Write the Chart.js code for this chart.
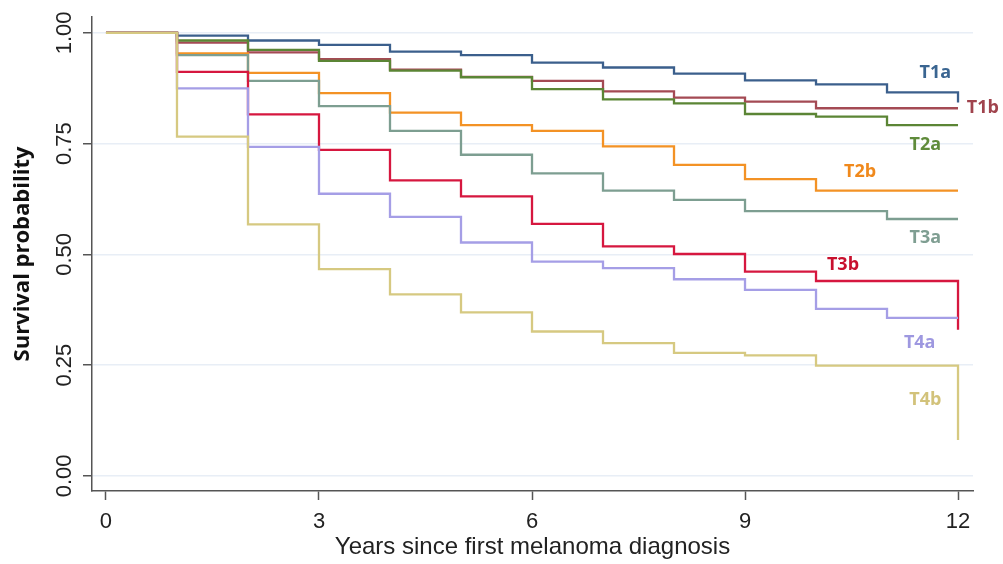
<!DOCTYPE html>
<html>
<head>
<meta charset="utf-8">
<script src="https://cdn.jsdelivr.net/npm/chart.js@4.4.0/dist/chart.umd.min.js"></script>
<style>
  body { margin: 0; background: #fff; }
  #wrap { width: 1003px; height: 564px; }
</style>
</head>
<body>
<div id="wrap"><canvas id="kmChart"></canvas></div>
<script>
// Kaplan-Meier survival by T stage
const years = [0, 1, 2, 3, 4, 5, 6, 7, 8, 9, 10, 11, 12];
const xTicks = [0, 3, 6, 9, 12];
const yTicks = [0, 0.25, 0.5, 0.75, 1];

const t1a = [1, 0.994, 0.983, 0.973, 0.958, 0.950, 0.933, 0.922, 0.908, 0.893, 0.884, 0.866, 0.843];
const t1b = [1, 0.978, 0.956, 0.941, 0.917, 0.901, 0.892, 0.868, 0.854, 0.845, 0.830, 0.830, 0.830];
const t2a = [1, 0.983, 0.962, 0.937, 0.915, 0.900, 0.873, 0.850, 0.841, 0.817, 0.811, 0.792, 0.792];
const t2b = [1, 0.954, 0.910, 0.864, 0.820, 0.792, 0.779, 0.744, 0.702, 0.670, 0.644, 0.644, 0.644];
const t3a = [1, 0.950, 0.892, 0.835, 0.779, 0.725, 0.683, 0.644, 0.623, 0.598, 0.598, 0.580, 0.580];
const t3b = [1, 0.912, 0.816, 0.736, 0.667, 0.631, 0.569, 0.518, 0.501, 0.461, 0.440, 0.440, 0.330];
const t4a = [1, 0.875, 0.743, 0.637, 0.585, 0.527, 0.484, 0.469, 0.444, 0.420, 0.377, 0.357, 0.357];
const t4b = [1, 0.766, 0.568, 0.467, 0.410, 0.369, 0.326, 0.300, 0.278, 0.272, 0.249, 0.249, 0.081];

const stages = ['T1a', 'T1b', 'T2a', 'T2b', 'T3a', 'T3b', 'T4a', 'T4b'];
const series = [t1a, t1b, t2a, t2b, t3a, t3b, t4a, t4b];
const lineColors = ['#3b5f8c', '#a44a54', '#5b8535', '#f39225', '#7d9e91', '#d6173f', '#a59ee6', '#d6c981'];
const textColors = ['#3a6591', '#a0434d', '#5f8b3b', '#f0891c', '#7f9e92', '#c8102e', '#9e98e0', '#d2c27a'];
// where each curve label sits, in data units
const labelX = [11.68, 12.35, 11.54, 10.62, 11.54, 10.38, 11.46, 11.54];
const labelY = [0.910, 0.831, 0.747, 0.686, 0.537, 0.476, 0.300, 0.172];

const curveLabels = {
    id: 'curveLabels',
    afterDatasetsDraw(chart) {
        const { ctx, scales } = chart;
        ctx.save();
        ctx.font = 'bold 18px "Open Sans"';
        ctx.textAlign = 'center';
        ctx.textBaseline = 'middle';
        stages.forEach((s, i) => {
            ctx.fillStyle = textColors[i];
            ctx.fillText(s, scales.x.getPixelForValue(labelX[i]), scales.y.getPixelForValue(labelY[i]));
        });
        ctx.restore();
    }
};

const ctx = document.getElementById('kmChart').getContext('2d');
new Chart(ctx, {
    type: 'line',
    data: {
        datasets: stages.map((s, i) => ({
            label: s,
            data: years.map((yr, j) => ({ x: yr, y: series[i][j] })),
            borderColor: lineColors[i],
            borderWidth: 2.3,
            stepped: 'before',
            pointRadius: 0,
            fill: false,
            order: 7 - i
        }))
    },
    options: {
        responsive: true,
        maintainAspectRatio: false,
        animation: false,
        layout: { padding: { top: 17, right: 30, left: 0, bottom: 0 } },
        plugins: {
            legend: { display: false },
            tooltip: { enabled: false }
        },
        scales: {
            x: {
                type: 'linear',
                min: -0.197,
                max: 12.211,
                afterBuildTicks: (scale) => { scale.ticks = xTicks.map(v => ({ value: v })); },
                afterFit: (scale) => { scale.height = 73; },
                grid: { drawOnChartArea: false, tickLength: 9, tickColor: '#555', tickWidth: 1.5 },
                border: { color: '#555', width: 1.5 },
                ticks: { color: '#222', font: { family: '"Liberation Sans"', size: 22 }, padding: 9 },
                title: {
                    display: true,
                    text: 'Years since first melanoma diagnosis',
                    color: '#222',
                    font: { family: '"Liberation Sans"', size: 24 },
                    padding: { top: 0, bottom: 2 }
                }
            },
            y: {
                type: 'linear',
                min: -0.034,
                max: 1.036,
                afterBuildTicks: (scale) => { scale.ticks = yTicks.map(v => ({ value: v })); },
                afterFit: (scale) => { scale.width = 92; },
                grid: { color: '#e8eef6', lineWidth: 1.5, tickLength: 9, tickColor: '#555', tickWidth: 1.5 },
                border: { color: '#555', width: 1.5 },
                ticks: {
                    color: '#222',
                    font: { family: '"Liberation Sans"', size: 22 },
                    minRotation: 90,
                    maxRotation: 90,
                    crossAlign: 'center',
                    padding: -3,
                    callback: (v) => v.toFixed(2)
                },
                title: {
                    display: true,
                    text: 'Survival probability',
                    color: '#111',
                    font: { family: '"Open Sans"', size: 22, weight: 'bold' },
                    padding: { top: 10, bottom: 0 }
                }
            }
        }
    },
    plugins: [curveLabels]
});
</script>
</body>
</html>
